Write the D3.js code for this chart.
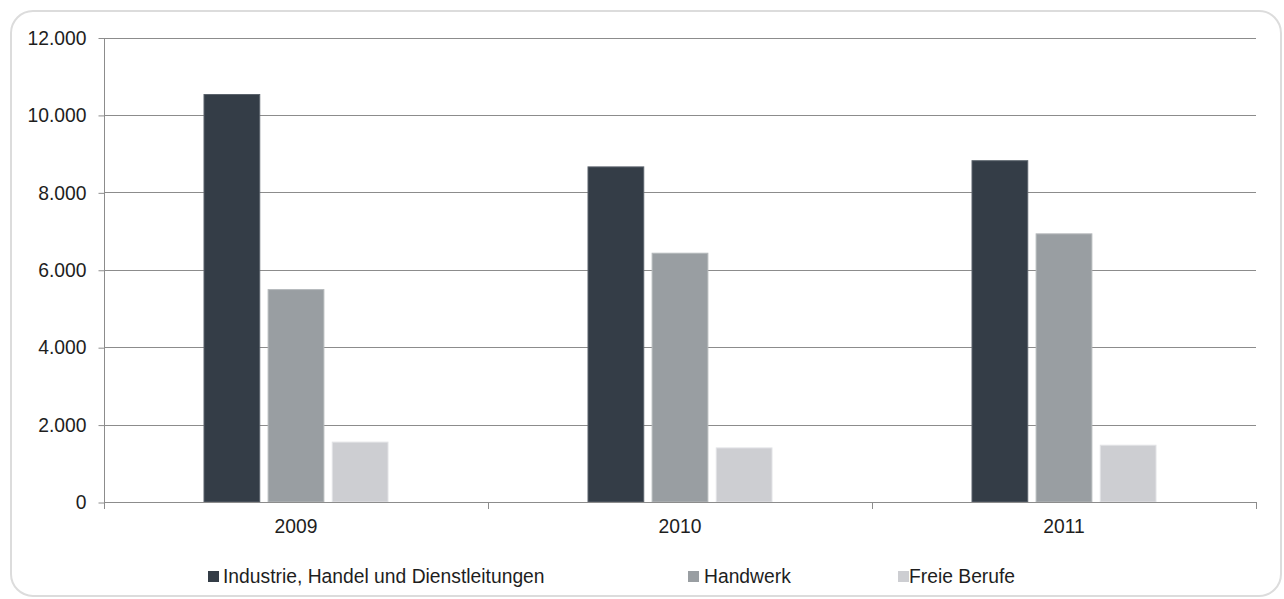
<!DOCTYPE html>
<html>
<head>
<meta charset="utf-8">
<script src="https://cdn.jsdelivr.net/npm/d3@7/dist/d3.min.js"></script>
<style>
  html, body { margin: 0; padding: 0; background: #fff; }
  svg { display: block; font-family: "Liberation Sans", Arial, sans-serif; }
</style>
</head>
<body>
<svg id="chart" width="1284" height="599"></svg>
<script>
// Years shown on the x axis
const years = ["2009", "2010", "2011"];
// Series names
const seriesNames = ["Industrie, Handel und Dienstleitungen", "Handwerk", "Freie Berufe"];
// Values per series, one per year
const industrie = [10540, 8670, 8830];
const handwerk = [5500, 6440, 6940];
const freieBerufe = [1560, 1410, 1480];
// Y axis tick values
const yTicks = [0, 2000, 4000, 6000, 8000, 10000, 12000];

const seriesValues = [industrie, handwerk, freieBerufe];
const colors = ["#343d47", "#999ea2", "#cdced2"];
const strokes = ["#5b636c", "#b4b8bb", "#e2e3e6"];
const fontSize = "19.3px";

const svg = d3.select("#chart");

// rounded frame
svg.append("rect")
  .attr("x", 11).attr("y", 11).attr("width", 1270).attr("height", 585)
  .attr("rx", 22).attr("ry", 22)
  .attr("fill", "#fff").attr("stroke", "#dcdcdc").attr("stroke-width", 2);

const plot = { left: 104, right: 1256, top: 37.5, bottom: 502 };

const x0 = d3.scaleBand().domain(years).range([plot.left, plot.right]).paddingInner(0).paddingOuter(0);
const y = d3.scaleLinear().domain([0, 12000]).range([plot.bottom, plot.top]);

// inner band for the three bars of one year
const groupWidth = 185;
const x1 = d3.scaleBand().domain(d3.range(seriesNames.length))
  .range([0, groupWidth]).paddingInner(0.115).paddingOuter(0);

const deFormat = d3.formatLocale({ decimal: ",", thousands: ".", grouping: [3], currency: ["", "€"] }).format(",d");

// horizontal gridlines
svg.append("g")
  .selectAll("line")
  .data(yTicks)
  .join("line")
  .attr("x1", plot.left).attr("x2", plot.right)
  .attr("y1", d => Math.round(y(d)) + 0.5).attr("y2", d => Math.round(y(d)) + 0.5)
  .attr("stroke", "#8c8c8c").attr("stroke-width", 1);

// y axis
const yAxis = d3.axisLeft(y).tickValues(yTicks).tickSize(6).tickPadding(12).tickFormat(deFormat);
const gy = svg.append("g").attr("transform", `translate(${plot.left + 0.5},0.5)`).call(yAxis);
gy.select(".domain").attr("stroke", "#8c8c8c").attr("d", `M0,${plot.top}V${plot.bottom + 6}`);
gy.selectAll(".tick line").attr("stroke", "#8c8c8c");
gy.selectAll(".tick text").attr("fill", "#1e1e1e").style("font-size", fontSize)
  .attr("font-family", "'Liberation Sans', Arial, sans-serif");

// bars
const groups = svg.append("g")
  .selectAll("g")
  .data(years)
  .join("g")
  .attr("transform", d => `translate(${x0(d) + (x0.bandwidth() - groupWidth) / 2},0)`);

groups.selectAll("rect")
  .data((d, i) => seriesValues.map((vals, s) => ({ s, v: vals[i] })))
  .join("rect")
  .attr("x", d => x1(d.s) + 0.5)
  .attr("width", x1.bandwidth() - 1)
  .attr("y", d => y(d.v) + 0.5)
  .attr("height", d => plot.bottom - y(d.v) - 0.5)
  .attr("fill", d => colors[d.s])
  .attr("stroke", d => strokes[d.s])
  .attr("stroke-width", 1);

// x axis baseline with ticks at the category boundaries
const gx = svg.append("g");
gx.append("line")
  .attr("x1", plot.left).attr("x2", plot.right)
  .attr("y1", plot.bottom + 0.5).attr("y2", plot.bottom + 0.5)
  .attr("stroke", "#8c8c8c");
const boundaries = years.map(d => x0(d)).concat([plot.right]);
gx.selectAll("line.tk")
  .data(boundaries)
  .join("line")
  .attr("class", "tk")
  .attr("x1", d => Math.round(d) + 0.5).attr("x2", d => Math.round(d) + 0.5)
  .attr("y1", plot.bottom).attr("y2", plot.bottom + 7)
  .attr("stroke", "#8c8c8c");
gx.selectAll("text")
  .data(years)
  .join("text")
  .attr("x", d => x0(d) + x0.bandwidth() / 2)
  .attr("y", 533)
  .attr("text-anchor", "middle")
  .attr("fill", "#1e1e1e")
  .style("font-size", fontSize)
  .text(d => d);

// legend
const legendX = [208, 688, 898];
const legendTextOffset = [15, 16, 11];
const legend = svg.append("g");
const li = legend.selectAll("g")
  .data(seriesNames)
  .join("g")
  .attr("transform", (d, i) => `translate(${legendX[i]},571)`);
li.append("rect")
  .attr("width", 11).attr("height", 11)
  .attr("fill", (d, i) => colors[i]);
li.append("text")
  .attr("x", (d, i) => legendTextOffset[i])
  .attr("y", 12)
  .attr("fill", "#1e1e1e")
  .style("font-size", fontSize)
  .text(d => d);
</script>
</body>
</html>
